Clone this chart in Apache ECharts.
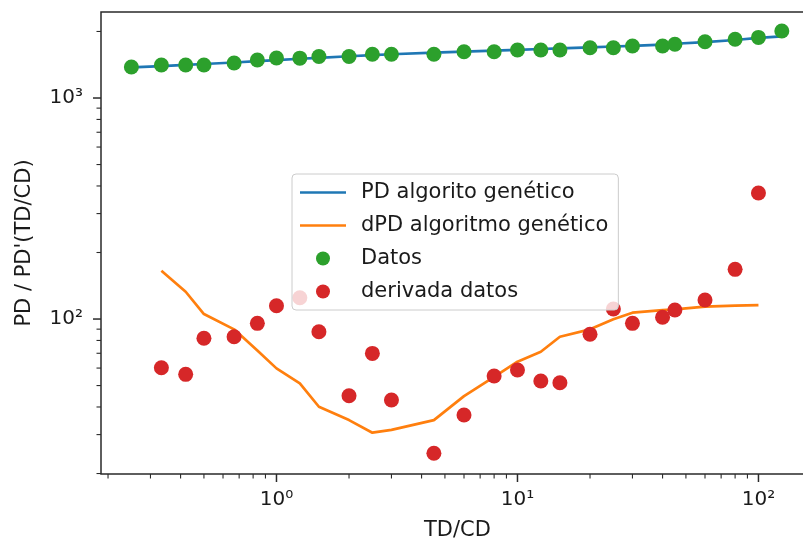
<!DOCTYPE html>
<html>
<head>
<meta charset="utf-8">
<script src="https://cdn.jsdelivr.net/npm/echarts@6/dist/echarts.min.js"></script>
<style>html,body{margin:0;padding:0;background:#fff}#c{width:803px;height:549px}</style>
</head>
<body>
<div id="c"></div>
<script>
// ---- data ----
const xDatos = [0.25, 0.333, 0.42, 0.5, 0.667, 0.833, 1, 1.25, 1.5, 2, 2.5, 3, 4.5, 6, 8, 10, 12.5, 15, 20, 25, 30, 40, 45, 60, 80, 100, 125];
const yDatos = [1382, 1410, 1410, 1410, 1440, 1486, 1517, 1515, 1540, 1540, 1577, 1577, 1577, 1620, 1620, 1649, 1649, 1649, 1688, 1688, 1719, 1719, 1750, 1798, 1845, 1880, 2010];
const yPD = [1375, 1395, 1412, 1425, 1448, 1468, 1485, 1505, 1520, 1545, 1563, 1578, 1605, 1622, 1640, 1652, 1666, 1677, 1695, 1710, 1722, 1745, 1760, 1790, 1830, 1870, 1900];

const xDeriv = [0.333, 0.42, 0.5, 0.667, 0.833, 1, 1.25, 1.5, 2, 2.5, 3, 4.5, 6, 8, 10, 12.5, 15, 20, 25, 30, 40, 45, 60, 80, 100];
const yDeriv = [60.2, 56.2, 81.8, 83.2, 95.6, 114.9, 124.9, 87.6, 45.0, 69.9, 43.0, 24.7, 36.8, 55.2, 58.8, 52.4, 51.5, 85.3, 111, 95.6, 101.8, 109.8, 121.9, 167.8, 371.6];
const yDPD = [165.4, 132.9, 105.3, 89.8, 72.0, 59.8, 51.2, 40.1, 34.9, 30.6, 31.5, 34.9, 44.8, 54.8, 64.1, 71.1, 83.2, 89.8, 99.7, 106.8, 109.8, 110.6, 113.7, 114.9, 115.7];

const seriesNames = ['PD algorito genético', 'dPD algoritmo genético', 'Datos', 'derivada datos'];
const xName = 'TD/CD';
const yName = "PD / PD'(TD/CD)";

const xMajorTicks = [1, 10, 100];
const xMinorTicks = [0.2, 0.3, 0.4, 0.5, 0.6, 0.7, 0.8, 0.9, 2, 3, 4, 5, 6, 7, 8, 9, 20, 30, 40, 50, 60, 70, 80, 90];
const yMajorTicks = [100, 1000];
const yMinorTicks = [20, 30, 40, 50, 60, 70, 80, 90, 200, 300, 400, 500, 600, 700, 800, 900, 2000];

const X_MIN = 0.187, X_MAX = 170;
const Y_MIN = 19.9, Y_MAX = 2450;

// ---- chart ----
const FONT = 'DejaVu Sans';
const TXT = '#1a1a1a';
const SPINE = '#2a2a2a';
const sup = {'-1':'⁻¹', 0:'⁰', 1:'¹', 2:'²', 3:'³', 4:'⁴'};
function powLabel(v) {
  const l = Math.log10(v), e = Math.round(l);
  return Math.abs(l - e) < 1e-6 ? '10' + sup[e] : '';
}
const zip = (a, b) => a.map((v, i) => [v, b[i]]);
const LINE_ICON = 'path://M0,0 L46,0 L46,2.7 L0,2.7 Z';

const xTickData = xMajorTicks.map(v => [v, Y_MIN, 1]).concat(xMinorTicks.map(v => [v, Y_MIN, 0]));
const yTickData = yMajorTicks.map(v => [X_MIN, v, 1]).concat(yMinorTicks.map(v => [X_MIN, v, 0]));

const chart = echarts.init(document.getElementById('c'), null, {renderer: 'canvas'});
chart.setOption({
  animation: false,
  backgroundColor: '#ffffff',
  textStyle: {fontFamily: FONT},
  grid: {left: 101, top: 12, right: -11, bottom: 75, show: true, borderColor: SPINE, borderWidth: 1.5, backgroundColor: 'transparent', containLabel: false, outerBoundsMode: 'none'},
  xAxis: {
    type: 'log', logBase: 10, min: X_MIN, max: X_MAX,
    name: xName, nameLocation: 'middle', nameGap: 46,
    nameTextStyle: {fontFamily: FONT, fontSize: 21, color: TXT},
    axisLine: {show: false}, axisTick: {show: false}, splitLine: {show: false}, minorTick: {show: false},
    axisLabel: {formatter: powLabel, margin: 16, fontFamily: FONT, fontSize: 20, color: TXT}
  },
  yAxis: {
    type: 'log', logBase: 10, min: Y_MIN, max: Y_MAX,
    name: yName, nameLocation: 'middle', nameGap: 66,
    nameTextStyle: {fontFamily: FONT, fontSize: 21, color: TXT},
    axisLine: {show: false}, axisTick: {show: false}, splitLine: {show: false}, minorTick: {show: false},
    axisLabel: {formatter: powLabel, margin: 18, fontFamily: FONT, fontSize: 20, color: TXT}
  },
  legend: {
    orient: 'vertical', left: 292, top: 174,
    data: [
      {name: seriesNames[0], icon: LINE_ICON},
      {name: seriesNames[1], icon: LINE_ICON},
      {name: seriesNames[2], icon: 'circle'},
      {name: seriesNames[3], icon: 'circle'}
    ],
    itemWidth: 46, itemHeight: 14, itemGap: 12,
    padding: [8, 10, 8, 8],
    backgroundColor: 'rgba(255,255,255,0.8)',
    borderColor: '#cccccc', borderWidth: 1, borderRadius: 4,
    textStyle: {fontFamily: FONT, fontSize: 21, color: TXT, padding: [0, 0, 0, 10]},
    selectedMode: false, z: 10
  },
  series: [
    {name: seriesNames[0], type: 'line', data: zip(xDatos, yPD), symbol: 'none', showSymbol: false,
     lineStyle: {color: '#1f77b4', width: 2.7}, itemStyle: {color: '#1f77b4'}, z: 2},
    {name: seriesNames[1], type: 'line', data: zip(xDeriv, yDPD), symbol: 'none', showSymbol: false,
     lineStyle: {color: '#ff7f0e', width: 2.7}, itemStyle: {color: '#ff7f0e'}, z: 2},
    {name: seriesNames[2], type: 'scatter', data: zip(xDatos, yDatos), symbol: 'circle', symbolSize: 15,
     itemStyle: {color: '#2ca02c', opacity: 1}, z: 3},
    {name: seriesNames[3], type: 'scatter', data: zip(xDeriv, yDeriv), symbol: 'circle', symbolSize: 15,
     itemStyle: {color: '#d62728', opacity: 1}, z: 3},
    {type: 'custom', name: 'xticks', data: xTickData, clip: false, silent: true, z: 5,
     renderItem: function (params, api) {
       const p = api.coord([api.value(0), api.value(1)]);
       const major = api.value(2) === 1;
       const len = major ? 8 : 4.5;
       return {type: 'line', shape: {x1: p[0], y1: p[1], x2: p[0], y2: p[1] + len},
               style: {stroke: SPINE, lineWidth: major ? 1.5 : 1.1}};
     }},
    {type: 'custom', name: 'yticks', data: yTickData, clip: false, silent: true, z: 5,
     renderItem: function (params, api) {
       const p = api.coord([api.value(0), api.value(1)]);
       const major = api.value(2) === 1;
       const len = major ? 8 : 4.5;
       return {type: 'line', shape: {x1: p[0], y1: p[1], x2: p[0] - len, y2: p[1]},
               style: {stroke: SPINE, lineWidth: major ? 1.5 : 1.1}};
     }}
  ]
});
</script>
</body>
</html>
